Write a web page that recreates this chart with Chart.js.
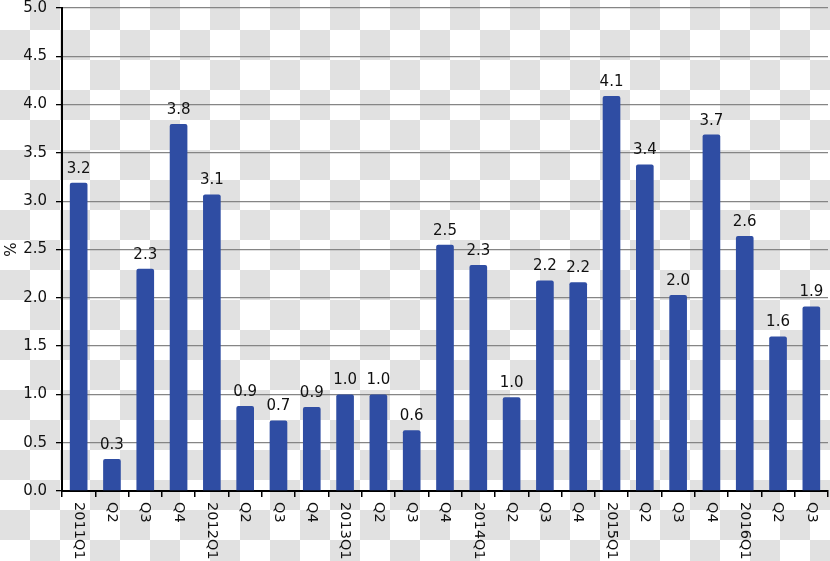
<!DOCTYPE html>
<html>
<head>
<meta charset="utf-8">
<script src="https://cdn.jsdelivr.net/npm/chart.js@4/dist/chart.umd.min.js"></script>
<style>
    html, body {
        margin: 0;
        padding: 0;
    }
    body {
        width: 830px;
        height: 561px;
        overflow: hidden;
        background: repeating-conic-gradient(#e1e1e1 0 25%, #ffffff 0 50%) 0 0 / 60px 60px;
    }
    #growthChart {
        display: block;
    }
</style>
</head>
<body>
<canvas id="growthChart" width="830" height="561"></canvas>
<script>
// quarters along the x axis
const quarterLabels = [
    "2011Q1", "Q2", "Q3", "Q4",
    "2012Q1", "Q2", "Q3", "Q4",
    "2013Q1", "Q2", "Q3", "Q4",
    "2014Q1", "Q2", "Q3", "Q4",
    "2015Q1", "Q2", "Q3", "Q4",
    "2016Q1", "Q2", "Q3"
];

// values in %
const growthValues = [
    3.19, 0.33, 2.30, 3.80,
    3.07, 0.88, 0.73, 0.87,
    1.00, 1.00, 0.63, 2.55,
    2.34, 0.97, 2.18, 2.16,
    4.09, 3.38, 2.03, 3.69,
    2.64, 1.60, 1.91
];

const yTicks = [0, 0.5, 1, 1.5, 2, 2.5, 3, 3.5, 4, 4.5, 5];

const FONT = "'DejaVu Sans', Verdana, sans-serif";
const TEXT = "#111111";

// value labels above each bar
const valueLabels = {
    id: "valueLabels",
    afterDatasetsDraw(chart) {
        const ctx = chart.ctx;
        const meta = chart.getDatasetMeta(0);
        ctx.save();
        ctx.font = "15px " + FONT;
        ctx.fillStyle = TEXT;
        ctx.textAlign = "center";
        ctx.textBaseline = "alphabetic";
        meta.data.forEach((bar, i) => {
            ctx.fillText(growthValues[i].toFixed(1), bar.x, bar.y - 10);
        });
        ctx.restore();
    }
};

// x labels turned 90deg clockwise (read top to bottom)
const rotatedXLabels = {
    id: "rotatedXLabels",
    afterDraw(chart) {
        const ctx = chart.ctx;
        const xs = chart.scales.x;
        ctx.save();
        ctx.font = "14.5px " + FONT;
        ctx.fillStyle = TEXT;
        ctx.textAlign = "left";
        ctx.textBaseline = "middle";
        quarterLabels.forEach((lab, i) => {
            ctx.save();
            ctx.translate(xs.getPixelForValue(i), xs.top + 11);
            ctx.rotate(Math.PI / 2);
            ctx.fillText(lab, 0, 0);
            ctx.restore();
        });
        ctx.restore();
    }
};

new Chart(document.getElementById("growthChart"), {
    type: "bar",
    data: {
        labels: quarterLabels,
        datasets: [
            {
                data: growthValues,
                backgroundColor: "#2f4da3",
                borderRadius: 2,
                borderSkipped: "bottom",
                categoryPercentage: 1,
                barPercentage: 0.53
            }
        ]
    },
    options: {
        responsive: false,
        animation: false,
        devicePixelRatio: 1,
        layout: {
            padding: { top: 8, right: 2, left: 0, bottom: 0 }
        },
        plugins: {
            legend: { display: false },
            tooltip: { enabled: false }
        },
        scales: {
            x: {
                offset: true,
                grid: {
                    offset: true,
                    drawOnChartArea: false,
                    drawTicks: true,
                    tickLength: 6,
                    color: "#000000",
                    lineWidth: 1.5
                },
                border: { color: "#000000", width: 2 },
                ticks: { display: false },
                afterFit(scale) {
                    scale.height = 70;
                    scale.paddingLeft = 0;
                    scale.paddingRight = 0;
                }
            },
            y: {
                min: 0,
                max: 5,
                afterBuildTicks(scale) {
                    scale.ticks = yTicks.map(v => ({ value: v }));
                },
                ticks: {
                    color: TEXT,
                    font: { family: FONT, size: 15 },
                    padding: 9,
                    callback: v => Number(v).toFixed(1)
                },
                grid: {
                    color: "#858585",
                    lineWidth: 1.3,
                    tickLength: 6,
                    tickColor: "#000000"
                },
                border: { color: "#000000", width: 2 },
                title: {
                    display: true,
                    text: "%",
                    color: TEXT,
                    font: { family: FONT, size: 15 },
                    padding: { top: 3, bottom: 0 }
                },
                afterFit(scale) {
                    scale.width = 62;
                    scale.paddingTop = 0;
                    scale.paddingBottom = 0;
                }
            }
        }
    },
    plugins: [valueLabels, rotatedXLabels]
});
</script>
</body>
</html>
